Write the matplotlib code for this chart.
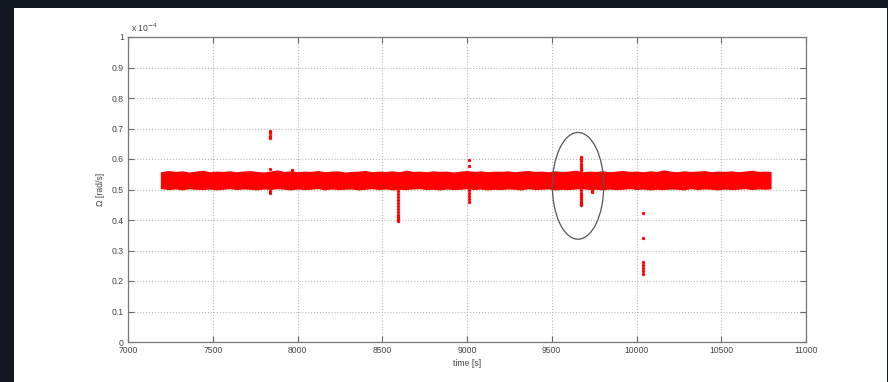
import matplotlib
matplotlib.use("Agg")
import matplotlib.pyplot as plt
from matplotlib.patches import Ellipse, Rectangle
from matplotlib.ticker import FuncFormatter

plt.rcParams['font.family'] = ['Liberation Sans', 'DejaVu Sans']

# ---- data (values in units of 1e-4 rad/s) ----
band_t = [7195, 7240, 7280, 7320, 7360, 7400, 7440, 7480, 7520, 7560,
          7600, 7640, 7680, 7720, 7760, 7800, 7840, 7880, 7920, 7960,
          8000, 8040, 8080, 8120, 8160, 8200, 8240, 8280, 8320, 8360,
          8400, 8440, 8480, 8520, 8560, 8600, 8640, 8680, 8720, 8760,
          8800, 8840, 8880, 8920, 8960, 9000, 9040, 9080, 9120, 9160,
          9200, 9240, 9280, 9320, 9360, 9400, 9440, 9480, 9520, 9560,
          9600, 9640, 9680, 9720, 9760, 9800, 9840, 9880, 9920, 9960,
          10000, 10040, 10080, 10120, 10160, 10200, 10240, 10280, 10320, 10360,
          10400, 10440, 10480, 10520, 10560, 10600, 10640, 10680, 10720, 10760,
          10790]
band_upper = [0.556, 0.560, 0.557, 0.559, 0.555, 0.558, 0.561, 0.556, 0.558, 0.557,
              0.559, 0.556, 0.558, 0.560, 0.557, 0.555, 0.558, 0.562, 0.557, 0.559,
              0.556, 0.558, 0.557, 0.560, 0.556, 0.558, 0.559, 0.555, 0.557, 0.558,
              0.560, 0.556, 0.558, 0.557, 0.559, 0.556, 0.561, 0.557, 0.558, 0.556,
              0.559, 0.557, 0.558, 0.555, 0.558, 0.560, 0.557, 0.559, 0.556, 0.558,
              0.557, 0.559, 0.556, 0.558, 0.560, 0.557, 0.558, 0.556, 0.559, 0.557,
              0.558, 0.561, 0.556, 0.558, 0.557, 0.559, 0.556, 0.558, 0.560, 0.557,
              0.558, 0.556, 0.559, 0.557, 0.562, 0.558, 0.556, 0.559, 0.557, 0.558,
              0.560, 0.556, 0.558, 0.557, 0.559, 0.556, 0.558, 0.561, 0.557, 0.558,
              0.557]
band_lower = [0.505, 0.502, 0.504, 0.501, 0.505, 0.503, 0.502, 0.504, 0.501, 0.503,
              0.505, 0.502, 0.504, 0.503, 0.501, 0.504, 0.502, 0.505, 0.503, 0.501,
              0.504, 0.502, 0.503, 0.505, 0.501, 0.504, 0.502, 0.503, 0.504, 0.501,
              0.503, 0.505, 0.502, 0.504, 0.501, 0.503, 0.502, 0.504, 0.505, 0.502,
              0.503, 0.501, 0.504, 0.502, 0.503, 0.505, 0.502, 0.504, 0.501, 0.503,
              0.502, 0.504, 0.503, 0.501, 0.505, 0.502, 0.503, 0.504, 0.501, 0.503,
              0.502, 0.504, 0.505, 0.502, 0.503, 0.501, 0.504, 0.502, 0.503, 0.505,
              0.502, 0.504, 0.501, 0.503, 0.502, 0.504, 0.503, 0.501, 0.505, 0.502,
              0.504, 0.503, 0.501, 0.504, 0.502, 0.503, 0.505, 0.502, 0.504, 0.503,
              0.504]

spike_t = [7840, 7840, 7840, 7840, 7840, 7840, 7840,
           7965,
           8590, 8590, 8590, 8590, 8590, 8590, 8590, 8590, 8590, 8590, 8590, 8590,
           9010, 9010, 9010, 9010, 9010, 9010, 9010,
           9670, 9670, 9670, 9670, 9670, 9670, 9670, 9670, 9670, 9670, 9670, 9670, 9670, 9670, 9670, 9670,
           9735, 9735,
           10040, 10040, 10040, 10040, 10040, 10040, 10040]
spike_v = [0.668, 0.676, 0.684, 0.692, 0.566, 0.494, 0.487,
           0.564,
           0.495, 0.485, 0.475, 0.465, 0.455, 0.445, 0.435, 0.425, 0.418, 0.410, 0.403, 0.397,
           0.597, 0.577, 0.497, 0.487, 0.478, 0.469, 0.460,
           0.607, 0.600, 0.593, 0.585, 0.577, 0.569, 0.563, 0.498, 0.490, 0.482, 0.475, 0.468, 0.461, 0.455, 0.449, 0.452,
           0.498, 0.492,
           0.424, 0.342, 0.262, 0.252, 0.242, 0.232, 0.222]

ellipse_center = (9655, 0.512)
ellipse_size = (303, 0.35)

x_ticks = [7000, 7500, 8000, 8500, 9000, 9500, 10000, 10500, 11000]
y_ticks = [0, 0.1, 0.2, 0.3, 0.4, 0.5, 0.6, 0.7, 0.8, 0.9, 1.0]

# ---- figure ----
fig = plt.figure(figsize=(8.88, 3.82), dpi=100)
fig.patch.set_facecolor('#121920')
fig.patches.append(Rectangle((14 / 888, 0), (887 - 14) / 888, 1 - 8 / 382,
                             transform=fig.transFigure, facecolor='white',
                             edgecolor='none', zorder=-1))

ax = fig.add_axes([128 / 888, 1 - 342 / 382, 678 / 888, 305 / 382])
ax.set_zorder(2)
ax.set_facecolor('white')

red = '#ff0000'
ax.fill_between(band_t, band_lower, band_upper, color=red, linewidth=1.0,
                edgecolor=red, zorder=3)
ax.plot(spike_t, spike_v, linestyle='none', marker='o', markersize=2.4,
        color=red, markeredgewidth=0, zorder=3)

ax.add_patch(Ellipse(ellipse_center, ellipse_size[0], ellipse_size[1],
                     fill=False, edgecolor='#555555', linewidth=0.9, zorder=4))

ax.set_xlim(7000, 11000)
ax.set_ylim(0, 1)
ax.set_xticks(x_ticks)
ax.set_yticks(y_ticks)
ax.yaxis.set_major_formatter(FuncFormatter(lambda v, p: ('%g' % round(v, 2))))
ax.xaxis.set_major_formatter(FuncFormatter(lambda v, p: '%d' % v))

ax.grid(True, color='#b8b8b8', linestyle=':', linewidth=0.8)
ax.set_axisbelow(True)
ax.tick_params(direction='in', length=4, width=0.8, colors='#666666',
               labelcolor='#444444', labelsize=6.2, top=True, right=True, pad=3)
for s in ax.spines.values():
    s.set_color('#777777')
    s.set_linewidth(0.9)

ax.set_xlabel('time [s]', fontsize=6.2, color='#444444', labelpad=3)
ax.set_ylabel('Ω [rad/s]', fontsize=6.2, color='#444444', labelpad=5)
ax.text(0.005, 1.01, r'x 10$^{-4}$', transform=ax.transAxes, fontsize=6.2,
        color='#444444', ha='left', va='bottom')

fig.savefig('out.png', dpi=100, facecolor=fig.get_facecolor())
